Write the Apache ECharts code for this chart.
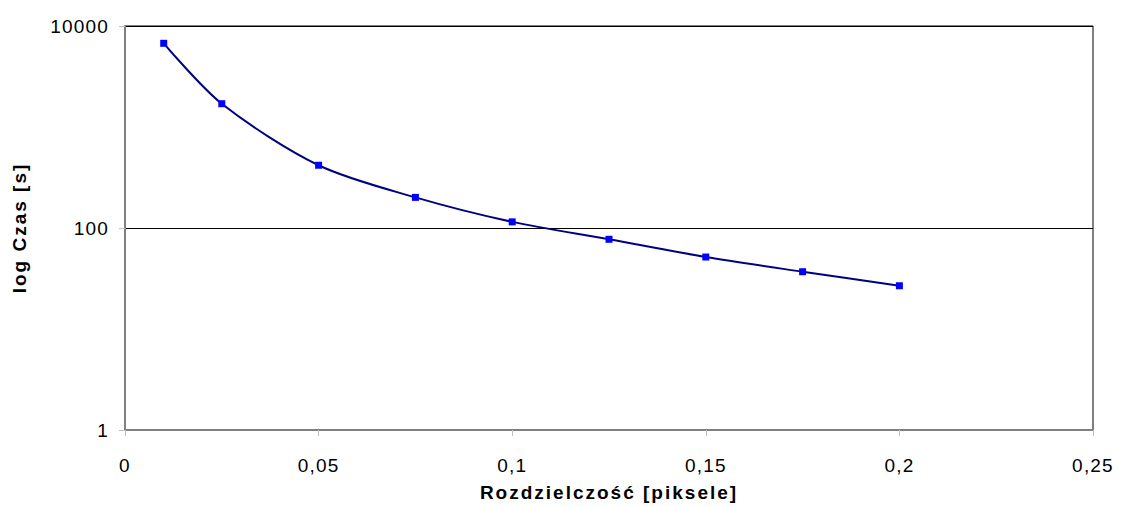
<!DOCTYPE html>
<html><head><meta charset="utf-8">
<script src="https://cdn.jsdelivr.net/npm/echarts@6/dist/echarts.min.js"></script>
<style>
html,body{margin:0;padding:0;background:#fff}
#c{width:1123px;height:507px}
#c text[style*="bold"]{letter-spacing:2px}
#c text:not([style*="bold"]){letter-spacing:1.2px}
</style>
</head><body><div id="c"></div>
<script>
const resolution = [0.01, 0.025, 0.05, 0.075, 0.1, 0.125, 0.15, 0.175, 0.2];
const timeSec = [6740, 1700, 418, 201, 115, 77.3, 51.6, 36.9, 26.8];
const xTicks = [0, 0.05, 0.1, 0.15, 0.2, 0.25];
const yTicks = [1, 100, 10000];

const chart = echarts.init(document.getElementById('c'), null, {renderer: 'svg'});
const font = 'Liberation Sans, Arial, sans-serif';
chart.setOption({
  animation: false,
  grid: {left: 125, right: 30, top: 26, bottom: 77, containLabel: false, outerBoundsMode: 'none',
    show: true, borderColor: '#000', borderWidth: 1, backgroundColor: '#fff'},
  xAxis: {
    type: 'value', min: 0, max: 0.25, interval: 0.05,
    name: 'Rozdzielczość [piksele]', nameLocation: 'middle', nameGap: 53,
    nameTextStyle: {fontFamily: font, fontSize: 19, fontWeight: 'bold', color: '#000'},
    axisLine: {show: true, lineStyle: {color: '#808080', width: 2}},
    axisTick: {show: true, length: 6, lineStyle: {color: '#c0c0c0'}},
    splitLine: {show: false},
    axisLabel: {fontFamily: font, fontSize: 19, color: '#000', margin: 26,
      formatter: v => String(+v.toFixed(2)).replace('.', ',')}
  },
  yAxis: {
    type: 'log', logBase: 10, min: 1, max: 10000, interval: 2,
    name: 'log Czas [s]', nameLocation: 'middle', nameGap: 96, nameRotate: 90,
    nameTextStyle: {fontFamily: font, fontSize: 19, fontWeight: 'bold', color: '#000'},
    axisLine: {show: true, lineStyle: {color: '#808080', width: 2}},
    axisTick: {show: true, length: 6, lineStyle: {color: '#c0c0c0'}},
    splitLine: {show: true, lineStyle: {color: '#000', width: 1}},
    axisLabel: {fontFamily: font, fontSize: 19, color: '#000', margin: 16,
      formatter: v => yTicks.indexOf(Math.round(v)) >= 0 ? String(Math.round(v)) : ''}
  },
  series: [{
    type: 'line', smooth: 0.3,
    data: resolution.map((x, i) => [x, timeSec[i]]),
    symbol: 'rect', symbolSize: 7,
    lineStyle: {color: '#000080', width: 2},
    itemStyle: {color: '#0000FF'}
  }]
});
</script></body></html>
